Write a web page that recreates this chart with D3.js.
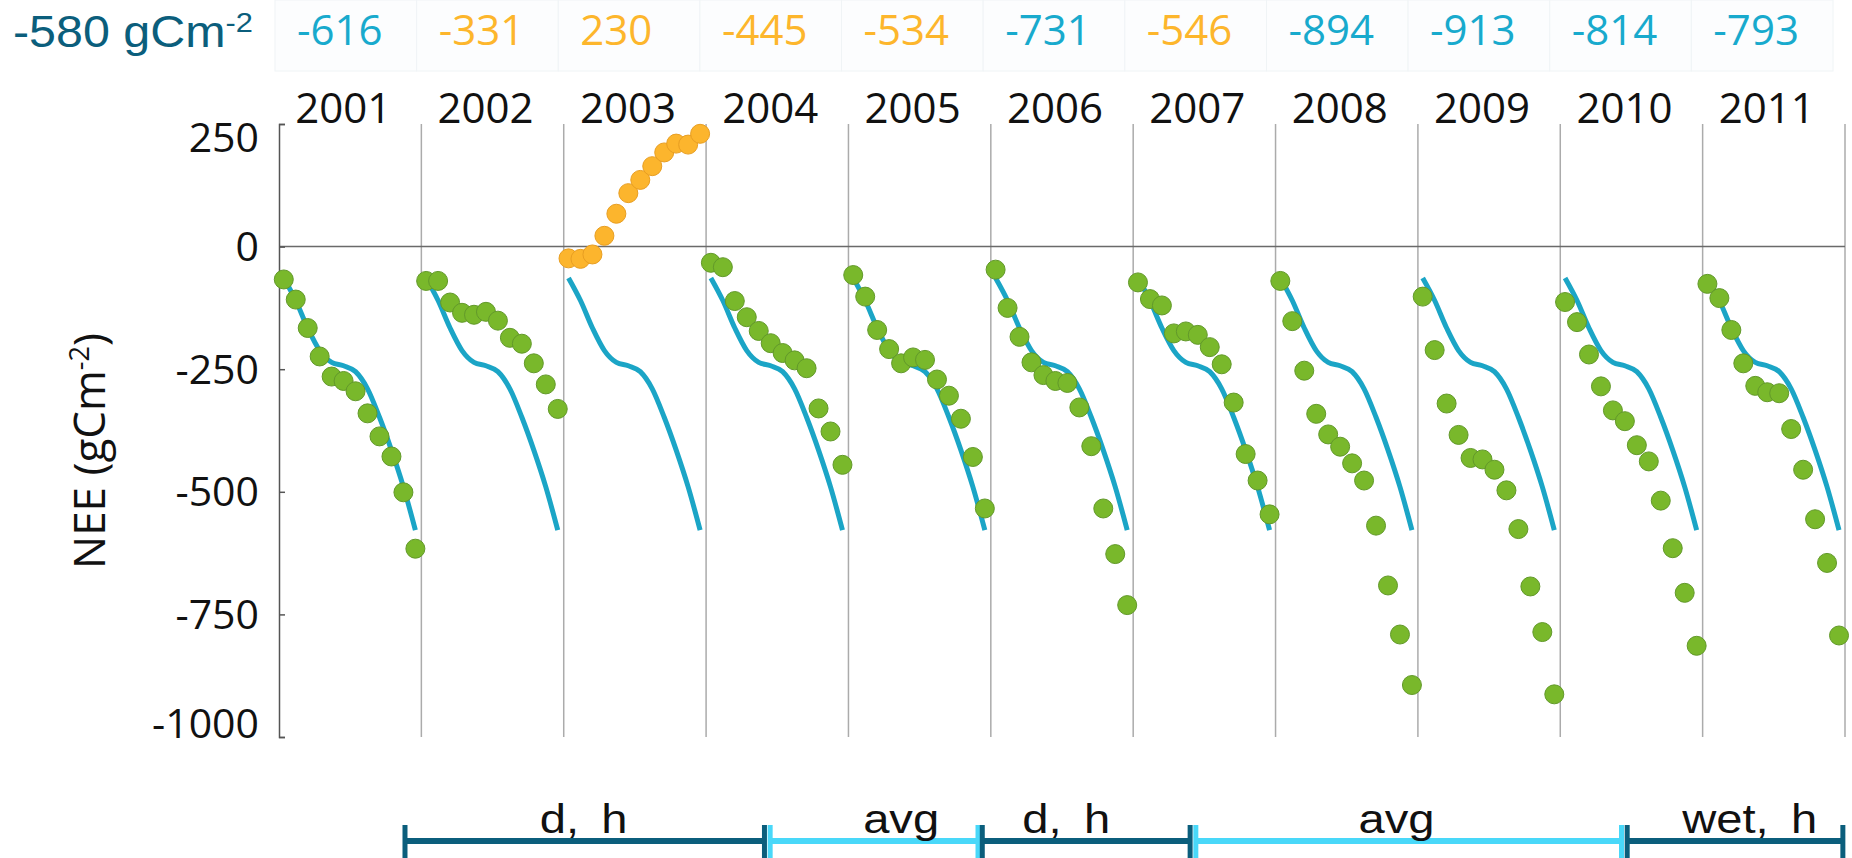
<!DOCTYPE html>
<html>
<head>
<meta charset="utf-8">
<script src="https://cdn.jsdelivr.net/npm/d3@7/dist/d3.min.js"></script>
<style>
  html, body { margin: 0; padding: 0; background: #ffffff; }
  svg { display: block; }
</style>
</head>
<body>
<svg id="chart" width="1852" height="858"></svg>
<script>
// ---------------- DATA ----------------
const years = [2001, 2002, 2003, 2004, 2005, 2006, 2007, 2008, 2009, 2010, 2011];
const annualTotals = [-616, -331, 230, -445, -534, -731, -546, -894, -913, -814, -793];
const referenceTotal = -580;
const months = [1, 2, 3, 4, 5, 6, 7, 8, 9, 10, 11, 12];

// cumulative monthly NEE (gC m-2) for each year
const nee2001 = [-67, -108, -166, -224, -265, -274, -295, -340, -387, -428, -501, -616];
const nee2002 = [-70, -70, -114, -135, -139, -133, -151, -186, -198, -238, -281, -331];
const nee2003 = [-24, -25, -16, 22, 67, 109, 136, 164, 192, 210, 208, 230];
const nee2004 = [-33, -42, -111, -144, -172, -197, -217, -232, -248, -330, -377, -445];
const nee2005 = [-58, -102, -170, -209, -238, -226, -231, -271, -304, -351, -429, -534];
const nee2006 = [-47, -125, -184, -236, -262, -274, -278, -328, -407, -534, -627, -731];
const nee2007 = [-73, -107, -120, -177, -173, -180, -205, -240, -318, -423, -477, -546];
const nee2008 = [-70, -152, -253, -341, -383, -408, -442, -477, -569, -691, -791, -894];
const nee2009 = [-102, -211, -320, -384, -431, -434, -455, -497, -576, -693, -786, -913];
const nee2010 = [-113, -154, -220, -285, -334, -356, -405, -438, -518, -615, -706, -814];
const nee2011 = [-76, -105, -170, -238, -284, -297, -299, -372, -455, -556, -645, -793];
const neeByYear = [nee2001, nee2002, nee2003, nee2004, nee2005, nee2006, nee2007, nee2008, nee2009, nee2010, nee2011];

// model (average) cumulative curve, same in every panel
const modelMonths = [1, 2, 3, 4, 5, 6, 7, 8, 9, 10, 11, 12];
const modelNEE = [-64, -110, -166, -212, -236, -243, -255, -290, -348, -415, -490, -578];

// y-axis ticks
const yTicks = [250, 0, -250, -500, -750, -1000];
const yTickLabels = ["250", "0", "-250", "-500", "-750", "-1000"];

// climate period brackets (year position units)
const periodLabels = ["d, h", "avg", "d, h", "avg", "wet, h"];
const periodStart = [2001.885, 2004.45, 2005.94, 2007.44, 2010.47];
const periodEnd = [2004.41, 2005.91, 2007.40, 2010.43, 2011.985];
const periodLabelAt = [2003.14, 2005.37, 2006.53, 2008.85, 2011.33];
const periodType = ["dark", "light", "dark", "light", "dark"];

// ---------------- STYLE ----------------
const C = {
  green: "#79b82b", greenStroke: "#62992a",
  orange: "#fcb52d", orangeStroke: "#e89e22",
  model: "#1ba5c6",
  blueText: "#18aacd", orangeText: "#fdb62c", teal: "#0b5e7c",
  dark: "#0b5e7c", light: "#49d8f9",
  axis: "#555555", panel: "#ababab", zero: "#6a6a6a"
};
const tickFont = "'Open Sans', 'DejaVu Sans', sans-serif";
const arialFont = "'Liberation Sans', Arial, sans-serif";

const svg = d3.select("#chart");

// ---------------- SCALES ----------------
const plotLeft = 279, plotRight = 1845;
const yTop = 124, yBottom = 737;
const y = d3.scaleLinear().domain([-1000, 250]).range([yBottom, yTop]);
const panelX = d3.scaleBand().domain(years).range([plotLeft, plotRight]).paddingInner(0).paddingOuter(0);
const bw = panelX.bandwidth();
const monthX = d3.scaleLinear().domain([0.6, 12.5]).range([0, bw]);
const cellX = d3.scaleBand().domain(years).range([275, 1833]);
const yearPos = d3.scaleLinear().domain([2001, 2012]).range([plotLeft, plotRight]);

// ---------------- TOP TABLE ----------------
const table = svg.append("g");
table.selectAll("rect").data(years).join("rect")
  .attr("x", d => cellX(d)).attr("y", 0)
  .attr("width", cellX.bandwidth()).attr("height", 71)
  .attr("fill", "#fcfdfe").attr("stroke", "#f0f4f6").attr("stroke-width", 1);

table.selectAll("text.total").data(years).join("text")
  .attr("class", "total")
  .attr("x", d => cellX(d) + 22)
  .attr("y", 45)
  .attr("text-anchor", "start")
  .attr("font-family", tickFont)
  .attr("font-size", 42)
  .attr("fill", (d, i) => annualTotals[i] < referenceTotal ? C.blueText : C.orangeText)
  .text((d, i) => String(annualTotals[i]));

const refText = svg.append("text")
  .attr("transform", "translate(13,47) scale(1.1,1)")
  .attr("font-family", arialFont)
  .attr("font-size", 44)
  .attr("fill", C.teal);
refText.append("tspan").text(referenceTotal + " gCm");
refText.append("tspan").attr("dy", -15).attr("font-size", 28).text("-2");

// ---------------- PANEL LINES ----------------
const grid = svg.append("g");
grid.selectAll("line.panel").data(years).join("line")
  .attr("class", "panel")
  .attr("x1", d => panelX(d) + bw).attr("x2", d => panelX(d) + bw)
  .attr("y1", yTop).attr("y2", yBottom)
  .attr("stroke", C.panel).attr("stroke-width", 1.5);

grid.append("line")
  .attr("x1", plotLeft).attr("x2", plotRight)
  .attr("y1", y(0)).attr("y2", y(0))
  .attr("stroke", C.zero).attr("stroke-width", 1.5);

// ---------------- Y AXIS ----------------
const yAxis = d3.axisLeft(y).tickValues(yTicks).tickSizeInner(-6).tickSizeOuter(-6).tickPadding(20)
  .tickFormat((d, i) => yTickLabels[i]);
const gy = svg.append("g").attr("transform", `translate(${plotLeft},0)`).call(yAxis);
gy.select(".domain").attr("stroke", C.axis).attr("stroke-width", 1.5);
gy.selectAll(".tick line").attr("stroke", C.axis).attr("stroke-width", 1.5);
gy.selectAll(".tick text")
  .attr("font-family", tickFont).attr("font-size", 41).attr("fill", "#111")
  .attr("dy", d => d === 250 ? "0.68em" : (d === -1000 ? "0.0em" : "0.34em"));

// y title
const yTitle = svg.append("text")
  .attr("transform", "translate(105,451) rotate(-90)")
  .attr("text-anchor", "middle")
  .attr("font-family", tickFont)
  .attr("font-size", 44)
  .attr("fill", "#111");
yTitle.append("tspan").text("NEE (gCm");
yTitle.append("tspan").attr("dy", -16).attr("font-size", 27).text("-2");
yTitle.append("tspan").attr("dy", 16).text(")");

// year labels
svg.append("g").selectAll("text").data(years).join("text")
  .attr("x", d => panelX(d) + bw / 2 - 7)
  .attr("y", 123)
  .attr("text-anchor", "middle")
  .attr("font-family", tickFont)
  .attr("font-size", 42)
  .attr("fill", "#111")
  .text(d => d);

// ---------------- PANELS ----------------
const line = d3.line()
  .x(d => monthX(d[0]))
  .y(d => y(d[1]))
  .curve(d3.curveMonotoneX);
const modelPts = modelMonths.map((m, i) => [m, modelNEE[i]]);

const panels = svg.append("g").selectAll("g.panel").data(years).join("g")
  .attr("class", "panel")
  .attr("transform", d => `translate(${panelX(d)},0)`);

panels.append("path")
  .attr("d", line(modelPts))
  .attr("fill", "none")
  .attr("stroke", C.model)
  .attr("stroke-width", 5)
  .attr("stroke-linecap", "butt");

panels.each(function (yr, i) {
  const vals = neeByYear[i];
  const positive = annualTotals[i] > 0;
  d3.select(this).selectAll("circle").data(months).join("circle")
    .attr("cx", m => monthX(m))
    .attr("cy", (m, j) => y(vals[j]))
    .attr("r", 9.5)
    .attr("fill", positive ? C.orange : C.green)
    .attr("stroke", positive ? C.orangeStroke : C.greenStroke)
    .attr("stroke-width", 1);
});

// ---------------- PERIOD BRACKETS ----------------
const bracketY = 841;
const brackets = svg.append("g").selectAll("g").data(periodLabels).join("g");
brackets.each(function (lab, i) {
  const g = d3.select(this);
  const x1 = yearPos(periodStart[i]), x2 = yearPos(periodEnd[i]);
  const col = periodType[i] === "dark" ? C.dark : C.light;
  g.append("line").attr("x1", x1).attr("x2", x2).attr("y1", bracketY).attr("y2", bracketY)
    .attr("stroke", col).attr("stroke-width", 6);
  [x1, x2].forEach(x => {
    g.append("line").attr("x1", x).attr("x2", x).attr("y1", 825).attr("y2", 858)
      .attr("stroke", col).attr("stroke-width", 5);
  });
  g.append("text")
    .attr("transform", `translate(${yearPos(periodLabelAt[i])},833) scale(1.15,1)`)
    .attr("text-anchor", "middle")
    .attr("font-family", arialFont)
    .attr("font-size", 41)
    .attr("word-spacing", 8)
    .attr("fill", "#111")
    .text(lab);
});
</script>
</body>
</html>
